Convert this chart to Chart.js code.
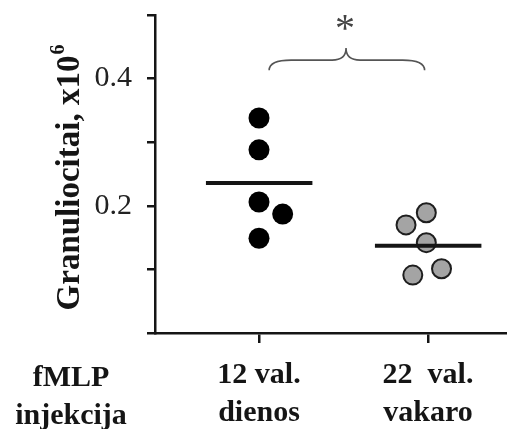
<!DOCTYPE html>
<html lang="lt">
<head>
  <meta charset="UTF-8">
  <title>Granuliocitai po fMLP injekcijos</title>
  <script src="https://cdn.jsdelivr.net/npm/chart.js@4.4.3/dist/chart.umd.min.js"></script>
  <style>
    body { margin: 0; background: #fff; }
    canvas { display: block; }
  </style>
</head>
<body>
  <canvas id="chart" width="507" height="429"></canvas>

  <script>
    // categories (x positions 1 and 2)
    const groupLabels = [['12 val.', 'dienos'], ['22  val.', 'vakaro']];
    const groupPos = [1, 2];
    const rowLabel = ['fMLP', 'injekcija'];

    // individual animals, x = group position + small jitter
    const dayX = [1.0, 1.0, 1.0, 1.14, 1.0];
    const dayY = [0.338, 0.288, 0.206, 0.187, 0.149];
    const nightX = [1.87, 1.99, 1.99, 2.08, 1.91];
    const nightY = [0.170, 0.189, 0.142, 0.101, 0.091];

    // group means
    const means = [0.236, 0.137];

    const yTicks = [0, 0.1, 0.2, 0.3, 0.4, 0.5];
    const yLabelled = [0.2, 0.4];

    const serif = "'Liberation Serif', 'Times New Roman', serif";
    const ink = '#151515';

    const pts = (xs, ys) => xs.map((x, i) => ({ x: x, y: ys[i] }));
    const meanLine = (i) => [
      { x: groupPos[i] - 0.314, y: means[i] },
      { x: groupPos[i] + 0.316, y: means[i] }
    ];

    // y title, left row label, significance brace
    const extras = {
      id: 'extras',
      afterDraw(chart) {
        const ctx = chart.ctx;
        const xs = chart.scales.x, ys = chart.scales.y;
        ctx.save();
        ctx.fillStyle = ink;

        // y axis title with superscript
        ctx.save();
        ctx.translate(70, 178);
        ctx.rotate(-Math.PI / 2);
        const main = 'Granuliocitai, x10';
        ctx.font = 'bold 33px ' + serif;
        const w1 = ctx.measureText(main).width;
        ctx.font = 'bold 20px ' + serif;
        const w2 = ctx.measureText('6').width;
        const start = -(w1 + w2) / 2;
        ctx.textBaseline = 'middle';
        ctx.textAlign = 'left';
        ctx.font = 'bold 33px ' + serif;
        ctx.fillText(main, start, 0);
        ctx.font = 'bold 20px ' + serif;
        ctx.fillText('6', start + w1 + 1, -11);
        ctx.restore();

        // "fMLP injekcija"
        ctx.font = 'bold 30px ' + serif;
        ctx.textAlign = 'center';
        ctx.textBaseline = 'alphabetic';
        ctx.fillText(rowLabel[0], 71, 386);
        ctx.fillText(rowLabel[1], 71, 424);

        // curly brace between the groups
        const xl = xs.getPixelForValue(1.06), xr = xs.getPixelForValue(1.98);
        const xm = xs.getPixelForValue(1.515);
        const yEnd = ys.getPixelForValue(0.413);
        const yBar = ys.getPixelForValue(0.429);
        const yTip = ys.getPixelForValue(0.448);
        ctx.strokeStyle = '#555';
        ctx.lineWidth = 1.6;
        ctx.beginPath();
        ctx.moveTo(xl, yEnd);
        ctx.quadraticCurveTo(xl, yBar, xl + 22, yBar);
        ctx.lineTo(xm - 14, yBar);
        ctx.quadraticCurveTo(xm, yBar, xm, yTip);
        ctx.quadraticCurveTo(xm, yBar, xm + 14, yBar);
        ctx.lineTo(xr - 22, yBar);
        ctx.quadraticCurveTo(xr, yBar, xr, yEnd);
        ctx.stroke();

        ctx.fillStyle = '#444';
        ctx.font = '40px ' + serif;
        ctx.textAlign = 'center';
        ctx.textBaseline = 'middle';
        ctx.fillText('*', xm - 1, ys.getPixelForValue(0.487) + 7);
        ctx.restore();
      }
    };

    new Chart(document.getElementById('chart'), {
      type: 'scatter',
      data: {
        datasets: [
          {
            type: 'line',
            data: meanLine(0),
            borderColor: ink,
            borderWidth: 4,
            pointRadius: 0,
            order: 0
          },
          {
            type: 'line',
            data: meanLine(1),
            borderColor: ink,
            borderWidth: 4,
            pointRadius: 0,
            order: 0
          },
          {
            data: pts(dayX, dayY),
            backgroundColor: '#000',
            borderColor: '#000',
            borderWidth: 0,
            pointRadius: 10.5,
            order: 1
          },
          {
            data: pts(nightX, nightY),
            backgroundColor: '#a4a4a4',
            borderColor: '#1e1e1e',
            borderWidth: 2,
            pointRadius: 9.5,
            order: 1
          }
        ]
      },
      options: {
        responsive: false,
        animation: false,
        events: [],
        layout: { autoPadding: false, padding: { top: 15, left: 0, right: 0, bottom: 0 } },
        plugins: { legend: { display: false }, tooltip: { enabled: false } },
        scales: {
          x: {
            type: 'linear',
            min: 1 - 104 / 169,
            max: 2 + 79 / 169,
            afterFit: s => { s.height = 96; s.paddingLeft = 0; s.paddingRight = 0; },
            afterBuildTicks: s => { s.ticks = groupPos.map(v => ({ value: v })); },
            border: { color: ink, width: 2.5 },
            grid: { drawOnChartArea: false, drawTicks: true, tickLength: 10, color: ink, lineWidth: 2.5 },
            ticks: {
              padding: 13,
              maxRotation: 0,
              color: ink,
              font: { family: serif, size: 30, weight: 'bold', lineHeight: 1.27 },
              callback: v => groupLabels[groupPos.indexOf(v)]
            }
          },
          y: {
            min: 0,
            max: 0.5,
            afterFit: s => { s.width = 155; s.paddingTop = 0; s.paddingBottom = 0; },
            afterBuildTicks: s => { s.ticks = yTicks.map(v => ({ value: v })); },
            border: { color: ink, width: 2.5 },
            grid: { drawOnChartArea: false, drawTicks: true, tickLength: 8, color: ink, lineWidth: 2.5 },
            ticks: {
              padding: 15,
              color: '#222',
              font: { family: serif, size: 30 },
              callback: v => yLabelled.includes(v) ? v.toFixed(1) : ''
            }
          }
        }
      },
      plugins: [extras]
    });
  </script>
</body>
</html>
